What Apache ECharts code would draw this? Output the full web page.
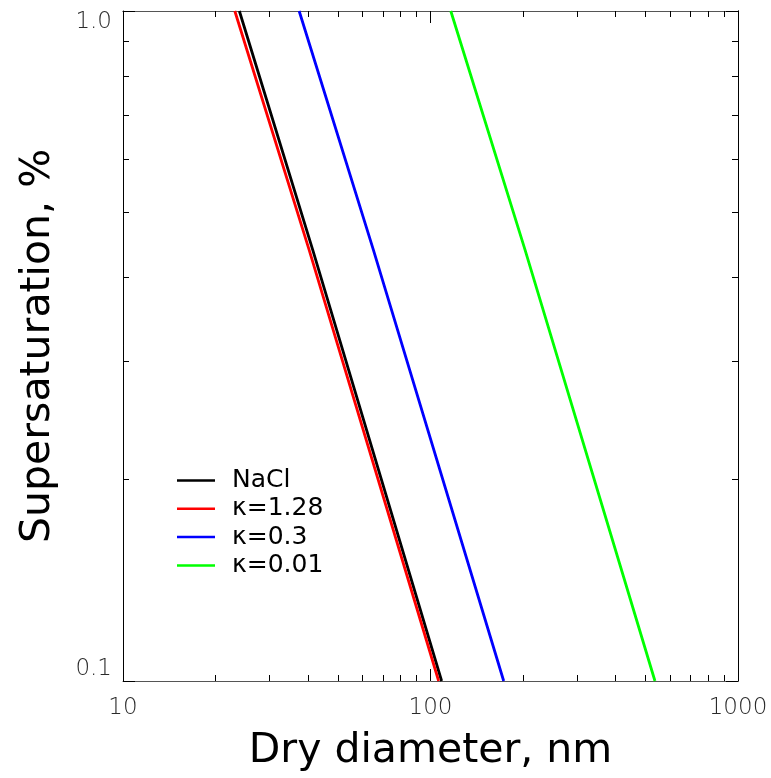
<!DOCTYPE html>
<html>
<head>
<meta charset="utf-8">
<script src="https://cdn.jsdelivr.net/npm/echarts@6/dist/echarts.min.js"></script>
<style>
html,body{margin:0;padding:0;background:#fff;}
#chart{width:771px;height:778px;}
</style>
</head>
<body>
<div id="chart"></div>
<script>
// Data (dry diameter nm, supersaturation %)
const seriesNames = ['NaCl', 'κ=1.28', 'κ=0.3', 'κ=0.01'];
const seriesColors = ['#000000', '#ff0000', '#0000ff', '#00ff00'];
const satValues = [1.0, 0.44, 0.1];
const naclDiam = [23.9, 41.4, 108.7];
const kappa128Diam = [23.1, 40.3, 106.3];
const kappa03Diam = [37.4, 65.2, 173];
const kappa001Diam = [116.4, 203, 537];
const xMinorTicks = [20, 30, 40, 50, 60, 70, 80, 90, 200, 300, 400, 500, 600, 700, 800, 900];
const xMajorTicks = [10, 100, 1000];
const yMinorTicks = [0.2, 0.3, 0.4, 0.5, 0.6, 0.7, 0.8, 0.9];
const yMajorTicks = [0.1, 1.0];

const diamLists = [naclDiam, kappa128Diam, kappa03Diam, kappa001Diam];

const chart = echarts.init(document.getElementById('chart'), null, {renderer: 'canvas'});

const tickFont = {fontFamily: 'DejaVu Sans', fontSize: 23, fontWeight: 200, color: '#2a2a2a'};

function xAxisDef(pos, ticks, len, main) {
  return {
    type: 'log', logBase: 10, min: 10, max: 1000, position: pos,
    name: main ? 'Dry diameter, nm' : '',
    nameLocation: 'middle', nameGap: 50,
    nameTextStyle: {fontFamily: 'DejaVu Sans', fontSize: 41, color: '#000'},
    axisLine: {show: main || pos === 'top', onZero: false, lineStyle: {color: '#555', width: 1}},
    axisTick: {show: true, inside: true, length: len, customValues: ticks, lineStyle: {color: '#000', width: 1}},
    axisLabel: Object.assign({show: main, margin: 16}, tickFont, {formatter: v => String(Math.round(v))}),
    splitLine: {show: false},
    minorTick: {show: false}
  };
}
function yAxisDef(pos, ticks, len, main) {
  return {
    type: 'log', logBase: 10, min: 0.1, max: 1.0, position: pos,
    name: main ? 'Supersaturation, %' : '',
    nameLocation: 'middle', nameGap: 64, nameRotate: 90,
    nameTextStyle: {fontFamily: 'DejaVu Sans', fontSize: 41, color: '#000'},
    axisLine: {show: main || pos === 'right', onZero: false, lineStyle: {color: '#000', width: 1}},
    axisTick: {show: true, inside: true, length: len, customValues: ticks, lineStyle: {color: '#000', width: 1}},
    axisLabel: Object.assign({show: main, margin: 11,
      verticalAlignMinLabel: 'bottom', verticalAlignMaxLabel: 'top'}, tickFont,
      {formatter: v => v.toFixed(1)}),
    splitLine: {show: false},
    minorTick: {show: false}
  };
}

const option = {
  animation: false,
  backgroundColor: '#fff',
  grid: {left: 123, right: 33, top: 11, bottom: 97, containLabel: false},
  xAxis: [
    xAxisDef('bottom', xMinorTicks, 6, true),
    xAxisDef('bottom', xMajorTicks, 12, false),
    xAxisDef('top', xMinorTicks, 6, false),
    xAxisDef('top', xMajorTicks, 12, false)
  ],
  yAxis: [
    yAxisDef('left', yMinorTicks, 6, true),
    yAxisDef('left', yMajorTicks, 12, false),
    yAxisDef('right', yMinorTicks, 6, false),
    yAxisDef('right', yMajorTicks, 12, false)
  ],
  legend: {
    orient: 'vertical', left: 177, top: 468, padding: 0,
    icon: 'rect',
    itemWidth: 38, itemHeight: 2.5, itemGap: 3.3,
    textStyle: {fontFamily: 'DejaVu Sans', fontSize: 25, color: '#000', lineHeight: 25, padding: [0, 0, 0, 12]},
    data: seriesNames
  },
  series: seriesNames.map((name, i) => ({
    name: name, type: 'line', xAxisIndex: 0, yAxisIndex: 0,
    symbol: 'none', clip: true,
    lineStyle: {color: seriesColors[i], width: 2.8},
    itemStyle: {color: seriesColors[i]},
    data: diamLists[i].map((d, j) => [d, satValues[j]])
  }))
};
chart.setOption(option);
</script>
</body>
</html>
